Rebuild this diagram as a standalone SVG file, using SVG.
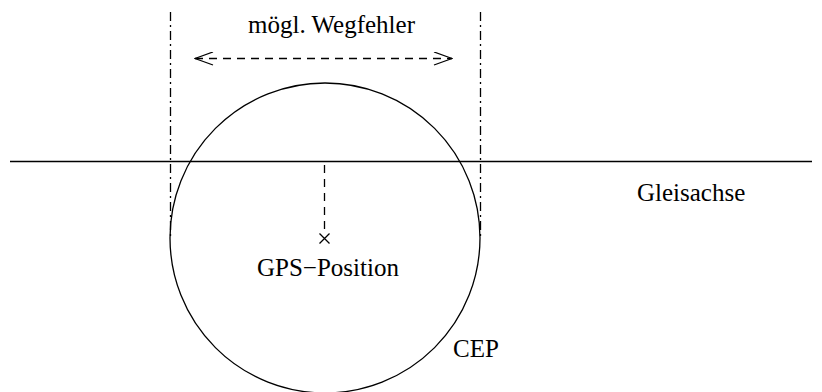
<svg xmlns="http://www.w3.org/2000/svg" width="822" height="392" viewBox="0 0 822 392">
<style>
text{font-family:"Liberation Serif","Times New Roman",serif;font-size:25px;fill:#000}
.ln{stroke:#000;stroke-width:1.3;fill:none}
.dd{stroke:#000;stroke-width:1.3;fill:none;stroke-dasharray:9,4,2,4}
.da{stroke:#000;stroke-width:1.3;fill:none;stroke-dasharray:8,6}
</style>
<defs>
<marker id="open" viewBox="0 0 20 14" refX="19" refY="7" markerWidth="20" markerHeight="14" markerUnits="userSpaceOnUse" orient="auto-start-reverse">
<path d="M1,0.5 L19,7 L1,13.5" fill="none" stroke="#000" stroke-width="1.3"/>
</marker>
</defs>
<g id="connectors">
<line class="dd" x1="170.5" y1="12" x2="170.5" y2="238"/>
<line class="dd" x1="480.5" y1="12" x2="480.5" y2="238"/>
<line class="da" x1="195" y1="58.5" x2="452" y2="58.5" marker-start="url(#open)" marker-end="url(#open)"/>
<line class="da" x1="324.5" y1="165" x2="324.5" y2="230"/>
</g>
<g id="gleisachse">
<line class="ln" x1="10" y1="161.5" x2="812" y2="161.5"/>
<text x="637" y="201">Gleisachse</text>
</g>
<g id="cep">
<circle class="ln" cx="325" cy="238" r="155"/>
<text x="453" y="357">CEP</text>
</g>
<g id="gps">
<path class="ln" d="M319.5,233.5 L329.5,243.5 M329.5,233.5 L319.5,243.5"/>
<text x="257" y="276">GPS−Position</text>
</g>
<g id="wegfehler">
<text x="331.5" y="33" text-anchor="middle">mögl. Wegfehler</text>
</g>
</svg>
